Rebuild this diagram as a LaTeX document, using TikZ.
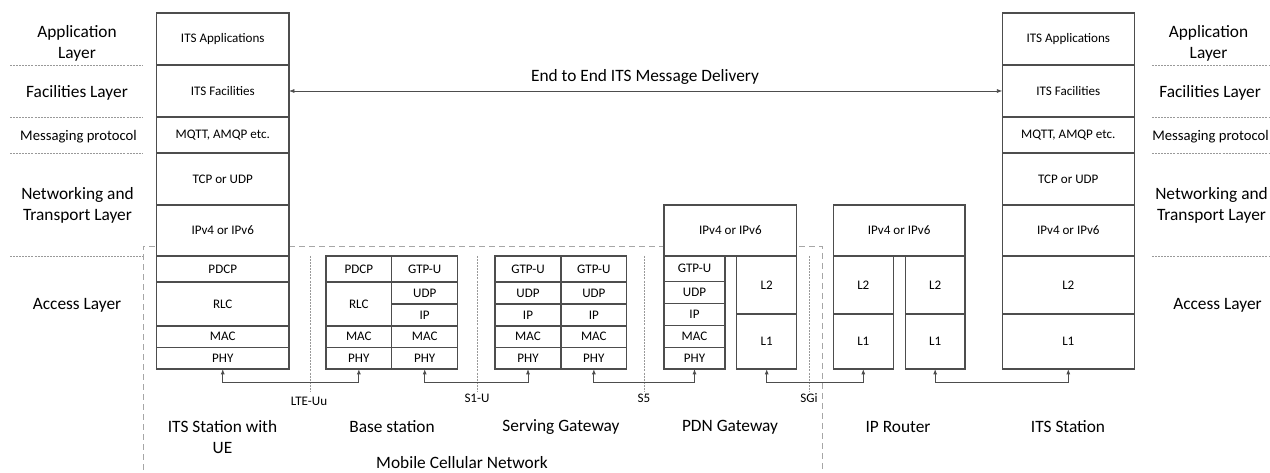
\documentclass[tikz,border=0pt]{standalone}
\usepackage{fontspec}
\setmainfont{Carlito}
\usetikzlibrary{arrows.meta}
\definecolor{boxline}{HTML}{4D4D4D}
\definecolor{dashgray}{HTML}{A6A6A6}
\definecolor{dotgray}{HTML}{999999}
\newcommand\mkcell[6]{%
  \node[cell, minimum width={(#4-#2)*0.75pt}, minimum height={(#5-#3)*0.75pt}]
    (#1) at ({(#2+#4)/2},{(#3+#5)/2}) {#6};}
\tikzset{
  cell/.style={draw=boxline, line width=0.8pt, fill=white, inner sep=0pt, outer sep=0pt,
    font=\fontsize{9.8}{11}\selectfont, text=black},
  biglabel/.style={font=\fontsize{13}{15.8}\selectfont, align=center, text=black, inner sep=0pt},
  midlabel/.style={font=\fontsize{11}{13}\selectfont, text=black, inner sep=0pt},
  iflabel/.style={font=\fontsize{9.8}{11}\selectfont, text=black, inner sep=0pt},
  layersep/.style={draw=dotgray, line width=0.5pt, dash pattern=on 1.5pt off 0.8pt},
  ifsep/.style={draw=dotgray, line width=0.5pt, dash pattern=on 1.5pt off 0.8pt},
  netbox/.style={draw=dashgray, line width=0.7pt, dash pattern=on 4.5pt off 3pt},
  conn/.style={draw=boxline, line width=0.7pt, {Latex[length=4pt,width=3pt]}-{Latex[length=4pt,width=3pt]}},
}
\begin{document}
\begin{tikzpicture}[x=0.75pt, y=-0.75pt]
\useasboundingbox (0,0) rectangle (1270,473);
% mobile cellular network dashed frame
\draw[netbox] (143,490) -- (143,246) -- (822,246) -- (822,490);
% layer separators
\foreach \yy in {65,117,153,256} {
  \draw[layersep] (10,\yy) -- (143,\yy);
  \draw[layersep] (1152,\yy) -- (1275,\yy);
}
% interface separators
\foreach \xx in {310,477,644,809} {
  \draw[ifsep] (\xx,256) -- (\xx,392);
}
% left ITS station
\mkcell{lapp}{156.5}{13}{289}{65}{ITS Applications}
\mkcell{lfac}{156.5}{65}{289}{117}{ITS Facilities}
\mkcell{lmsg}{156.5}{117}{289}{153}{MQTT, AMQP etc.}
\mkcell{ltcp}{156.5}{153}{289}{205}{TCP or UDP}
\mkcell{lip}{156.5}{205}{289}{256}{IPv4 or IPv6}
\mkcell{lpdcp}{156.5}{256}{289}{282}{PDCP}
\mkcell{lrlc}{156.5}{282}{289}{326}{RLC}
\mkcell{lmac}{156.5}{326}{289}{347.5}{MAC}
\mkcell{lphy}{156.5}{347.5}{289}{369}{PHY}
% base station
\mkcell{bpdcp}{326}{256}{391.7}{282}{PDCP}
\mkcell{brlc}{326}{282}{391.7}{326}{RLC}
\mkcell{bmaca}{326}{326}{391.7}{347.5}{MAC}
\mkcell{bphya}{326}{347.5}{391.7}{369}{PHY}
\mkcell{bgtp}{391.7}{256}{457.7}{282}{GTP-U}
\mkcell{budp}{391.7}{282}{457.7}{304}{UDP}
\mkcell{bip}{391.7}{304}{457.7}{326}{IP}
\mkcell{bmacb}{391.7}{326}{457.7}{347.5}{MAC}
\mkcell{bphyb}{391.7}{347.5}{457.7}{369}{PHY}
% serving gateway
\mkcell{sgtpa}{495}{256}{561}{282}{GTP-U}
\mkcell{sudpa}{495}{282}{561}{304}{UDP}
\mkcell{sipa}{495}{304}{561}{326}{IP}
\mkcell{smaca}{495}{326}{561}{347.5}{MAC}
\mkcell{sphya}{495}{347.5}{561}{369}{PHY}
\mkcell{sgtpb}{561}{256}{626.7}{282}{GTP-U}
\mkcell{sudpb}{561}{282}{626.7}{304}{UDP}
\mkcell{sipb}{561}{304}{626.7}{326}{IP}
\mkcell{smacb}{561}{326}{626.7}{347.5}{MAC}
\mkcell{sphyb}{561}{347.5}{626.7}{369}{PHY}
% PDN gateway
\mkcell{pip}{664}{205}{796.7}{256}{IPv4 or IPv6}
\mkcell{pgtp}{664}{256}{725}{281.5}{GTP-U}
\mkcell{pudp}{664}{281.5}{725}{303.5}{UDP}
\mkcell{pipb}{664}{303.5}{725}{325.7}{IP}
\mkcell{pmac}{664}{325.7}{725}{347.3}{MAC}
\mkcell{pphy}{664}{347.3}{725}{369}{PHY}
\mkcell{pltwo}{736.7}{256}{796.7}{314}{L2}
\mkcell{plone}{736.7}{314}{796.7}{369}{L1}
% IP router
\mkcell{rip}{833.3}{205}{965}{256}{IPv4 or IPv6}
\mkcell{rltwoa}{833.3}{256}{893.3}{314}{L2}
\mkcell{rlonea}{833.3}{314}{893.3}{369}{L1}
\mkcell{rltwob}{905.3}{256}{965}{314}{L2}
\mkcell{rloneb}{905.3}{314}{965}{369}{L1}
% right ITS station
\mkcell{rapp}{1002.3}{13}{1134.3}{65}{ITS Applications}
\mkcell{rfac}{1002.3}{65}{1134.3}{117}{ITS Facilities}
\mkcell{rmsg}{1002.3}{117}{1134.3}{153}{MQTT, AMQP etc.}
\mkcell{rtcp}{1002.3}{153}{1134.3}{205}{TCP or UDP}
\mkcell{ripv}{1002.3}{205}{1134.3}{256}{IPv4 or IPv6}
\mkcell{rltwo}{1002.3}{256}{1134.3}{314}{L2}
\mkcell{rlone}{1002.3}{314}{1134.3}{369}{L1}
% connectors
\coordinate (bus) at (0,382);
\draw[conn] (lphy.south) -- (lphy.south |- bus) -| (bphya.south);
\draw[conn] (bphyb.south) -- (bphyb.south |- bus) -| (sphya.south);
\draw[conn] (sphyb.south) -- (sphyb.south |- bus) -| (pphy.south);
\draw[conn] (plone.south) -- (plone.south |- bus) -| (rlonea.south);
\draw[conn] (rloneb.south) -- (rloneb.south |- bus) -| (rlone.south);
% end to end
\draw[conn, line width=0.5pt] (lfac.east) -- (rfac.west);
\node[biglabel] (e2e) at (645,77) {End to End ITS Message Delivery};
% left layer labels
\node[biglabel] (lal) at (77,43) {Application\\Layer};
\node[biglabel] (lfl) at (77,93) {Facilities Layer};
\node[midlabel] (lml) at (78.5,137) {Messaging protocol};
\node[biglabel] (lnl) at (77.5,205.5) {Networking and\\Transport Layer};
\node[biglabel] (lacl) at (77,305) {Access Layer};
% right layer labels
\node[biglabel] (ral) at (1208.5,43) {Application\\Layer};
\node[biglabel, anchor=west] (rfl) at (1159,93) {Facilities Layer};
\node[midlabel, anchor=west] (rml) at (1152,137) {Messaging protocol};
\node[biglabel, anchor=west] (rnl) at (1155,205.5) {Networking and\\Transport Layer};
\node[biglabel, anchor=west] (racl) at (1173,305) {Access Layer};
% interface labels
\node[iflabel] (ltei) at (309,401) {LTE-Uu};
\node[iflabel] (sonei) at (477,398.5) {S1-U};
\node[iflabel] (sfivei) at (644,398.5) {S5};
\node[iflabel] (sgii) at (809,398.5) {SGi};
% node labels
\node[biglabel] (n1) at (222.5,437.5) {ITS Station with\\UE};
\node[biglabel] (n2) at (392,427) {Base station};
\node[biglabel] (n3) at (561,427) {Serving Gateway};
\node[biglabel] (n4) at (730,427) {PDN Gateway};
\node[biglabel] (n5) at (898,427) {IP Router};
\node[biglabel] (n6) at (1068,427) {ITS Station};
\node[biglabel] (mcn) at (462,463) {Mobile Cellular Network};
\end{tikzpicture}
\end{document}
